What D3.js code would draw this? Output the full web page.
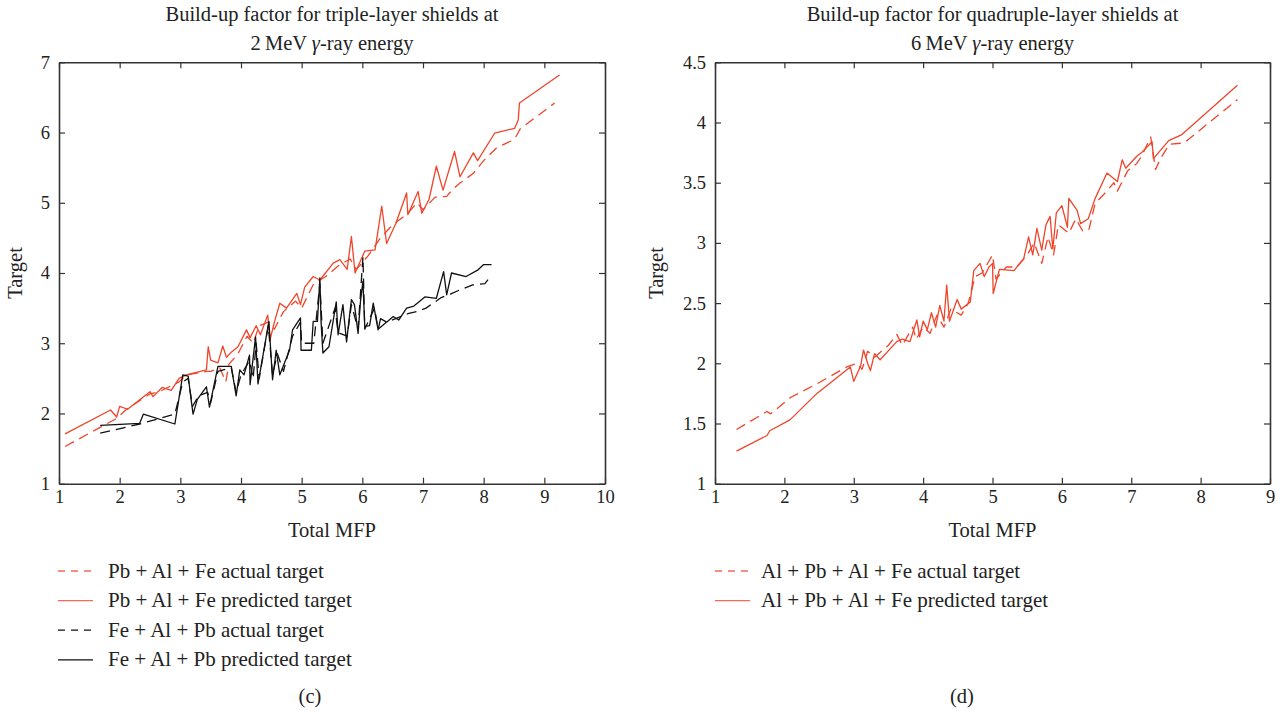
<!DOCTYPE html>
<html><head><meta charset="utf-8">
<script src="https://cdn.jsdelivr.net/npm/d3@7/dist/d3.min.js"></script>
<style>body{margin:0;background:#fff}svg text{font-family:"Liberation Serif","DejaVu Serif",serif;fill:#222}</style>
</head><body><svg id="c" width="1285" height="712"></svg>
<script>
// ---- Data: panel (c) triple-layer, 2 MeV ----
const cTitle = ["Build-up factor for triple-layer shields at", "2\u2009MeV γ-ray energy"];
const cXTicks = [1,2,3,4,5,6,7,8,9,10];
const cYTicks = [1,2,3,4,5,6,7];
const cPbAlFeActual = [[1.1,1.53],[1.95,1.93],[2.1,2.05],[2.5,2.28],[2.6,2.3],[2.7,2.33],[2.98,2.45],[3.1,2.55],[3.45,2.6],[3.5,2.6],[3.65,2.65],[3.75,2.45],[3.8,2.7],[3.95,2.85],[4.1,3.1],[4.2,3.0],[4.3,3.25],[4.45,3.3],[4.55,3.2],[4.7,3.45],[4.9,3.6],[5.0,3.5],[5.2,3.85],[5.4,3.95],[5.6,4.1],[5.8,4.2],[5.9,4.05],[6.1,4.25],[6.3,4.5],[6.45,4.64],[6.6,4.75],[6.75,4.85],[6.9,5.0],[7.0,4.9],[7.2,5.08],[7.39,5.09],[7.5,5.2],[7.61,5.28],[7.83,5.42],[8.0,5.6],[8.21,5.78],[8.45,5.88],[8.54,5.95],[8.6,6.05],[9.17,6.42]];
const cPbAlFePred = [[1.1,1.71],[1.85,2.05],[1.95,1.95],[2.0,2.1],[2.13,2.06],[2.5,2.31],[2.55,2.24],[2.7,2.37],[2.85,2.33],[2.98,2.5],[3.1,2.55],[3.43,2.62],[3.46,2.95],[3.5,2.76],[3.62,2.72],[3.7,2.96],[3.76,2.8],[3.85,2.88],[3.95,2.95],[4.09,3.19],[4.15,3.08],[4.25,3.25],[4.32,3.12],[4.44,3.4],[4.48,3.05],[4.55,3.3],[4.64,3.57],[4.75,3.5],[4.92,3.71],[4.98,3.55],[5.05,3.8],[5.19,3.95],[5.3,3.9],[5.52,4.14],[5.63,4.19],[5.75,4.05],[5.82,4.52],[5.88,4.0],[6.04,4.31],[6.21,4.33],[6.32,4.95],[6.4,4.42],[6.55,4.7],[6.73,5.14],[6.75,4.83],[6.92,5.16],[6.98,4.85],[7.1,5.05],[7.22,5.52],[7.33,5.18],[7.52,5.73],[7.61,5.37],[7.83,5.71],[7.9,5.6],[8.18,5.99],[8.51,6.06],[8.57,6.18],[8.59,6.42],[9.25,6.82]];
const cFeAlPbActual = [[1.68,1.72],[2.33,1.85],[2.91,1.99],[3.04,2.45],[3.13,2.5],[3.2,2.1],[3.3,2.25],[3.45,2.3],[3.5,2.15],[3.62,2.6],[3.84,2.65],[3.92,2.3],[4.0,2.55],[4.14,2.75],[4.2,2.5],[4.25,3.0],[4.3,2.5],[4.45,3.25],[4.52,2.55],[4.6,2.85],[4.7,2.6],[4.85,3.1],[4.98,3.3],[5.0,3.0],[5.2,3.0],[5.3,3.85],[5.35,3.0],[5.55,3.5],[5.6,3.15],[5.75,3.1],[5.82,3.55],[5.93,3.2],[6.01,4.23],[6.04,3.2],[6.2,3.5],[6.26,3.2],[6.4,3.3],[6.55,3.35],[6.75,3.42],[6.9,3.45],[7.05,3.5],[7.3,3.65],[7.45,3.7],[7.61,3.76],[7.82,3.83],[8.02,3.85],[8.13,3.97]];
const cFeAlPbPred = [[1.68,1.83],[2.33,1.86],[2.39,1.99],[2.91,1.85],[3.04,2.55],[3.13,2.53],[3.17,2.25],[3.21,1.99],[3.28,2.2],[3.43,2.38],[3.48,2.09],[3.62,2.67],[3.84,2.67],[3.92,2.25],[3.98,2.62],[4.05,2.55],[4.14,2.83],[4.15,2.41],[4.24,3.09],[4.28,2.42],[4.46,3.31],[4.52,2.48],[4.58,2.9],[4.64,2.55],[4.8,2.9],[4.85,3.19],[4.98,3.36],[4.99,2.9],[5.16,2.9],[5.19,3.31],[5.26,3.31],[5.3,3.93],[5.32,3.3],[5.35,2.86],[5.45,2.95],[5.57,3.59],[5.6,3.12],[5.68,3.55],[5.74,3.02],[5.82,3.62],[5.87,3.55],[5.93,3.14],[5.97,3.6],[6.01,3.88],[6.04,3.24],[6.12,3.25],[6.18,3.57],[6.26,3.19],[6.3,3.35],[6.4,3.3],[6.51,3.38],[6.6,3.33],[6.73,3.5],[6.85,3.53],[7.03,3.66],[7.22,3.64],[7.34,4.02],[7.39,3.69],[7.47,4.0],[7.71,3.95],[7.9,4.04],[8.0,4.12],[8.13,4.12]];
const cLegend = ["Pb + Al + Fe actual target","Pb + Al + Fe predicted target","Fe + Al + Pb actual target","Fe + Al + Pb predicted target"];

// ---- Data: panel (d) quadruple-layer, 6 MeV ----
const dTitle = ["Build-up factor for quadruple-layer shields at", "6\u2009MeV γ-ray energy"];
const dXTicks = [1,2,3,4,5,6,7,8,9];
const dYTicks = [1,1.5,2,2.5,3,3.5,4,4.5];
const dActual = [[1.31,1.45],[1.75,1.6],[1.8,1.58],[2.1,1.72],[2.47,1.83],[2.9,1.97],[3.05,2.0],[3.12,1.95],[3.2,2.1],[3.3,2.05],[3.5,2.15],[3.62,2.24],[3.7,2.15],[3.85,2.3],[3.9,2.2],[4.0,2.3],[4.1,2.25],[4.2,2.4],[4.3,2.3],[4.4,2.45],[4.55,2.4],[4.65,2.5],[4.75,2.72],[4.85,2.75],[4.95,2.85],[5.0,2.9],[5.05,2.7],[5.2,2.8],[5.35,2.8],[5.5,2.9],[5.6,3.0],[5.71,2.83],[5.8,3.05],[5.88,2.9],[5.95,3.15],[6.1,3.08],[6.2,3.2],[6.3,3.1],[6.39,3.11],[6.48,3.33],[6.6,3.4],[6.75,3.5],[6.8,3.43],[6.95,3.6],[7.08,3.66],[7.15,3.72],[7.28,3.88],[7.35,3.61],[7.42,3.7],[7.55,3.82],[7.76,3.83],[8.53,4.19]];
const dPred = [[1.31,1.27],[1.75,1.40],[1.79,1.44],[2.08,1.53],[2.47,1.75],[2.95,1.97],[3.0,1.85],[3.1,1.98],[3.14,2.11],[3.2,2.0],[3.24,1.94],[3.3,2.08],[3.38,2.03],[3.62,2.18],[3.7,2.2],[3.81,2.18],[3.91,2.36],[3.95,2.22],[4.0,2.35],[4.06,2.28],[4.12,2.42],[4.18,2.3],[4.24,2.48],[4.3,2.35],[4.34,2.65],[4.38,2.35],[4.49,2.53],[4.55,2.45],[4.68,2.51],[4.73,2.77],[4.82,2.83],[4.88,2.72],[4.95,2.8],[5.0,2.83],[5.01,2.58],[5.1,2.78],[5.31,2.77],[5.45,2.87],[5.52,3.05],[5.58,2.9],[5.64,3.12],[5.71,2.94],[5.77,3.15],[5.83,3.22],[5.87,2.95],[5.92,3.25],[6.0,3.31],[6.08,3.13],[6.1,3.37],[6.22,3.27],[6.27,3.16],[6.38,3.2],[6.48,3.37],[6.65,3.58],[6.8,3.51],[6.87,3.69],[6.92,3.62],[7.08,3.72],[7.15,3.75],[7.3,3.84],[7.32,3.7],[7.54,3.85],[7.73,3.9],[8.53,4.31]];
const dLegend = ["Al + Pb + Al + Fe actual target","Al + Pb + Al + Fe predicted target"];

const RED = "#f0452b", BLACK = "#111";
const svg = d3.select("#c");

function panel(o){
  const g = svg.append("g");
  const x = d3.scaleLinear().domain(o.xd).range([o.x0,o.x1]);
  const y = d3.scaleLinear().domain(o.yd).range([o.y0,o.y1]);
  const cx = (o.x0+o.x1)/2;
  // title
  o.title.forEach((t,i)=>{
    const tt = g.append("text").attr("x",cx).attr("y",21+i*29).attr("text-anchor","middle").attr("font-size",20.5);
    if(t.indexOf("γ")>=0){
      const parts=t.split("γ");
      tt.append("tspan").text(parts[0]);
      tt.append("tspan").attr("font-style","italic").text("γ");
      tt.append("tspan").text(parts[1]);
    } else tt.text(t);
  });
  // lines
  const line = d3.line().x(d=>x(d[0])).y(d=>y(d[1]));
  o.series.forEach(s=>{
    g.append("path").datum(s.data).attr("d",line).attr("fill","none")
     .attr("stroke",s.color).attr("stroke-width",1.3)
     .attr("stroke-dasharray",s.dash?"10,6":null).attr("stroke-linejoin","round");
  });
  // axes (box, inward ticks)
  const axStyle = sel=>{sel.select(".domain").attr("stroke","#333").attr("stroke-width",1.6);
    sel.selectAll(".tick line").attr("stroke","#333").attr("stroke-width",1.2);
    sel.selectAll("text").attr("font-size",18.5).attr("fill","#222").attr("font-family","Liberation Serif, serif");};
  g.append("g").attr("transform",`translate(0,${o.y0})`)
    .call(d3.axisBottom(x).tickValues(o.xt).tickSize(-6).tickSizeOuter(0).tickPadding(6).tickFormat(d3.format("d")))
    .call(axStyle);
  g.append("g").attr("transform",`translate(0,${o.y1})`)
    .call(d3.axisTop(x).tickValues(o.xt).tickSize(-6).tickSizeOuter(0).tickFormat(""))
    .call(axStyle);
  g.append("g").attr("transform",`translate(${o.x0},0)`)
    .call(d3.axisLeft(y).tickValues(o.yt).tickSize(-6).tickSizeOuter(0).tickPadding(9).tickFormat(o.yfmt))
    .call(axStyle);
  g.append("g").attr("transform",`translate(${o.x1},0)`)
    .call(d3.axisRight(y).tickValues(o.yt).tickSize(-6).tickSizeOuter(0).tickFormat(""))
    .call(axStyle);
  // axis labels
  g.append("text").attr("x",cx).attr("y",537).attr("text-anchor","middle").attr("font-size",20.5).text("Total MFP");
  g.append("text").attr("transform",`translate(${o.x0-o.ylOff},${(o.y0+o.y1)/2}) rotate(-90)`).attr("text-anchor","middle").attr("font-size",20.5).text("Target");
  // legend
  o.series.forEach((s,i)=>{
    const ly = 571 + i*29.6;
    g.append("line").attr("x1",o.lx).attr("x2",o.lx+35).attr("y1",ly).attr("y2",ly)
      .attr("stroke",s.color).attr("stroke-width",1.3).attr("stroke-opacity",s.color===RED?0.8:1)
      .attr("stroke-dasharray",s.dash?"7,6":null);
    g.append("text").attr("x",o.lx+o.ltx).attr("y",ly+6.5).attr("font-size",21).text(s.label);
  });
  g.append("text").attr("x",o.capx).attr("y",703).attr("text-anchor","middle").attr("font-size",20.5).text(o.cap);
}

panel({x0:59,x1:605,y0:483.7,y1:62.3,xd:[1,10],yd:[1,7],xt:cXTicks,yt:cYTicks,yfmt:d3.format("d"),
  title:cTitle,lx:58,ltx:50,capx:310,cap:"(c)",ylOff:37,
  series:[
    {data:cPbAlFeActual,color:RED,dash:true,label:cLegend[0]},
    {data:cPbAlFePred,color:RED,dash:false,label:cLegend[1]},
    {data:cFeAlPbActual,color:BLACK,dash:true,label:cLegend[2]},
    {data:cFeAlPbPred,color:BLACK,dash:false,label:cLegend[3]}
  ]});
panel({x0:715,x1:1270,y0:483.7,y1:62.3,xd:[1,9],yd:[1,4.5],xt:dXTicks,yt:dYTicks,yfmt:d=>(d===Math.round(d)?d3.format("d")(d):d3.format(".1f")(d)),
  title:dTitle,lx:715,ltx:46,capx:962,cap:"(d)",ylOff:52,
  series:[
    {data:dActual,color:RED,dash:true,label:dLegend[0]},
    {data:dPred,color:RED,dash:false,label:dLegend[1]}
  ]});
</script></body></html>
